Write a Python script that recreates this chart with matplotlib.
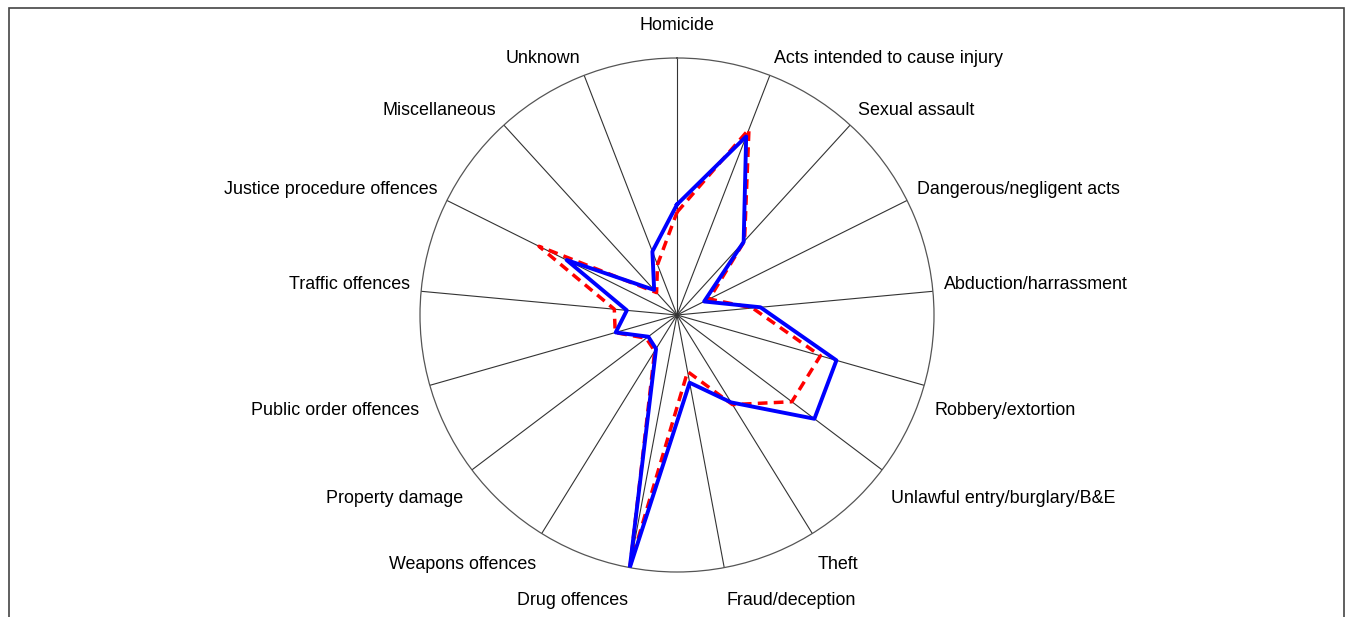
import numpy as np
import matplotlib
matplotlib.use('Agg')
import matplotlib.pyplot as plt
from matplotlib.patches import Rectangle

plt.rcParams['font.family'] = ['Liberation Sans', 'DejaVu Sans']

# offence categories, clockwise from the top
categories = ['Homicide', 'Acts intended to cause injury', 'Sexual assault',
              'Dangerous/negligent acts', 'Abduction/harrassment', 'Robbery/extortion',
              'Unlawful entry/burglary/B&E', 'Theft', 'Fraud/deception', 'Drug offences',
              'Weapons offences', 'Property damage', 'Public order offences',
              'Traffic offences', 'Justice procedure offences', 'Miscellaneous', 'Unknown']

# solid blue series
blue_vals = [0.43, 0.745, 0.385, 0.118, 0.326, 0.645, 0.67, 0.40, 0.268, 1.0,
             0.155, 0.14, 0.248, 0.196, 0.48, 0.132, 0.265]
# dashed red series
red_vals = [0.40, 0.775, 0.39, 0.14, 0.295, 0.58, 0.56, 0.41, 0.224, 0.99,
            0.165, 0.15, 0.25, 0.245, 0.60, 0.118, 0.21]


def plot_radar():
    n = len(categories)
    theta = np.arange(n) * 2 * np.pi / n

    fig = plt.figure(figsize=(13.51, 6.17), dpi=100)
    W, H = 1351.0, 617.0
    cx, cy, R = 677.0, 315.0, 257.0
    ax = fig.add_axes([(cx - R) / W, (H - cy - R) / H, 2 * R / W, 2 * R / H], projection='polar')
    ax.set_theta_zero_location('N')
    ax.set_theta_direction(-1)
    ax.set_ylim(0, 1)

    # spokes only, no radial rings
    ax.set_thetagrids(np.degrees(theta), labels=[''] * n)
    ax.set_yticks([])
    ax.xaxis.grid(True, color='#333333', linewidth=0.8, linestyle='-')
    ax.yaxis.grid(False)
    ax.spines['polar'].set_edgecolor('#555555')
    ax.spines['polar'].set_linewidth(0.9)

    th = np.append(theta, theta[0])
    ax.plot(th, red_vals + red_vals[:1], color='#ff0000', linewidth=2.5,
            linestyle=(0, (2.8, 1.8)), zorder=3)
    ax.plot(th, blue_vals + blue_vals[:1], color='#0000ff', linewidth=2.8,
            linestyle='-', zorder=4)

    # category labels
    for t, lab in zip(theta, categories):
        s, c = np.sin(t), np.cos(t)
        if abs(s) < 0.05:
            ha = 'center'
        elif s > 0:
            ha = 'left'
        else:
            ha = 'right'
        if ha == 'center' and c > 0:
            dy = 15.1
        elif c > 0:
            dy = 4.4
        else:
            dy = -15.7
        ax.annotate(lab, xy=(t, 1.043), xycoords='data', xytext=(0, dy),
                    textcoords='offset points', ha=ha, va='center',
                    fontsize=12.9, color='black', annotation_clip=False)

    # outer frame
    fig.add_artist(Rectangle((9 / W, -0.1), (1344 - 9) / W, (H - 8) / H + 0.1,
                             transform=fig.transFigure, fill=False,
                             edgecolor='#444444', linewidth=1.2))

    fig.savefig('out.png', dpi=100)
    plt.close(fig)


if __name__ == "__main__":
    plot_radar()
